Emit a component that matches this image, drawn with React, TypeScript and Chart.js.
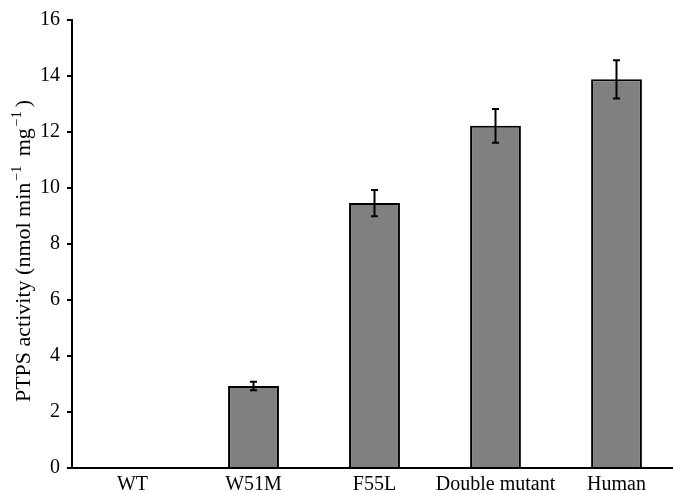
import React, { useEffect, useRef } from "react";
import { Chart, registerables } from "chart.js";

Chart.register(...registerables);

const categories = ["WT", "W51M", "F55L", "Double mutant", "Human"];
const activity = [0, 2.93, 9.46, 12.22, 13.88];
const errors = [0, 0.15, 0.47, 0.6, 0.68];
const yTicks = [0, 2, 4, 6, 8, 10, 12, 14, 16];
// y-axis title pieces: [text, isSuperscript]
const yTitleParts: [string, boolean][] = [
  ["PTPS activity (nmol min", false],
  ["\u22121", true],
  [" mg", false],
  ["\u22121", true],
  [")", false],
];

const FONT = "'Liberation Serif', 'Times New Roman', serif";

const errorBarPlugin = {
  id: "errorBars",
  afterDatasetsDraw(chart: any) {
    const ctx = chart.ctx;
    const meta = chart.getDatasetMeta(0);
    const y = chart.scales.y;
    ctx.save();
    ctx.strokeStyle = "#000";
    ctx.lineWidth = 2;
    meta.data.forEach((bar: any, i: number) => {
      const e = errors[i];
      if (!e) return;
      const v = activity[i];
      const x = bar.x;
      const t = y.getPixelForValue(v + e);
      const b = y.getPixelForValue(v - e);
      const cap = 3.5;
      ctx.beginPath();
      ctx.moveTo(x, t);
      ctx.lineTo(x, b);
      ctx.moveTo(x - cap, t);
      ctx.lineTo(x + cap, t);
      ctx.moveTo(x - cap, b);
      ctx.lineTo(x + cap, b);
      ctx.stroke();
    });
    ctx.restore();
  },
};

const yTitlePlugin = {
  id: "yTitle",
  afterDraw(chart: any) {
    const ctx = chart.ctx;
    const area = chart.chartArea;
    const mainSize = 22;
    const supSize = 14;
    const supGap = 6;
    const mainFont = `${mainSize}px ${FONT}`;
    const supFont = `${supSize}px ${FONT}`;
    ctx.save();
    let total = 0;
    const widths = yTitleParts.map(([t, sup]) => {
      ctx.font = sup ? supFont : mainFont;
      const w = ctx.measureText(t).width + (sup ? supGap : 0);
      total += w;
      return w;
    });
    const cy = (area.top + area.bottom) / 2 + 7;
    const cx = 24;
    ctx.translate(cx, cy);
    ctx.rotate(-Math.PI / 2);
    ctx.fillStyle = "#000";
    ctx.textBaseline = "middle";
    ctx.textAlign = "left";
    let x = -total / 2;
    yTitleParts.forEach(([t, sup], i) => {
      ctx.font = sup ? supFont : mainFont;
      ctx.fillText(t, x + (sup ? 2 : 0), sup ? -7 : 0);
      x += widths[i];
    });
    ctx.restore();
  },
};

export default function App() {
  const ref = useRef<HTMLCanvasElement | null>(null);
  useEffect(() => {
    if (!ref.current) return;
    const chart = new Chart(ref.current, {
      type: "bar",
      data: {
        labels: categories,
        datasets: [
          {
            data: activity,
            backgroundColor: "#808080",
            borderColor: "#000",
            borderWidth: 2,
            borderSkipped: "bottom",
            categoryPercentage: 1,
            barPercentage: 0.42,
          },
        ],
      },
      options: {
        animation: false,
        responsive: false,
        layout: { padding: { top: 20, right: 3, left: 0, bottom: 0 } },
        plugins: {
          legend: { display: false },
          tooltip: { enabled: false },
        },
        scales: {
          x: {
            grid: { display: false, drawTicks: false },
            border: { display: true, color: "#000", width: 2 },
            ticks: {
              color: "#000",
              font: { family: FONT, size: 20 },
              padding: 5,
              maxRotation: 0,
              autoSkip: false,
            },
            afterFit(scale: any) {
              scale.height = 25;
            },
          },
          y: {
            min: 0,
            max: 16,
            afterBuildTicks(scale: any) {
              scale.ticks = yTicks.map((v) => ({ value: v }));
            },
            grid: {
              display: true,
              drawOnChartArea: false,
              drawTicks: true,
              tickLength: 5,
              color: "#000",
              lineWidth: 2,
            },
            border: { display: true, color: "#000", width: 2 },
            ticks: {
              color: "#000",
              font: { family: FONT, size: 20 },
              padding: 7,
            },
            title: { display: false },
            afterFit(scale: any) {
              scale.width = 72;
            },
          },
        },
      },
      plugins: [errorBarPlugin, yTitlePlugin],
    });
    return () => chart.destroy();
  }, []);
  return (
    <div
      style={{
        position: "absolute",
        left: 0,
        top: 0,
        width: 673,
        height: 493,
        overflow: "hidden",
        background: "#fff",
      }}
    >
      <canvas ref={ref} width={680} height={493} />
    </div>
  );
}
